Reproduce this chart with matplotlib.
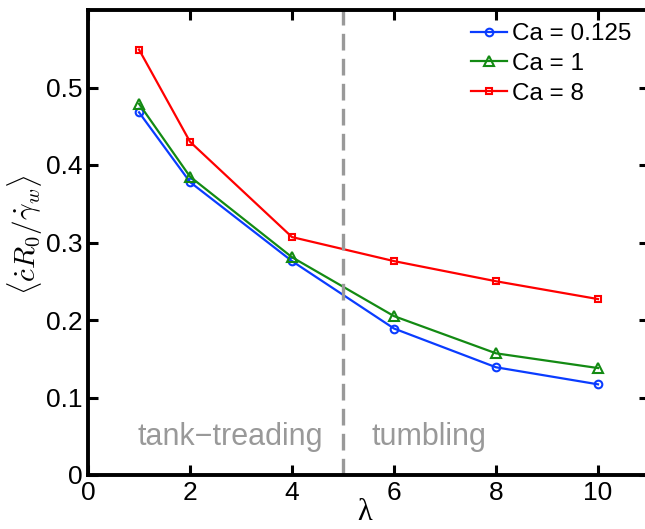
import matplotlib
matplotlib.use("Agg")
import matplotlib.pyplot as plt

lam = [1, 2, 4, 6, 8, 10]
ca_0125 = [0.468, 0.378, 0.276, 0.189, 0.139, 0.117]
ca_1 = [0.479, 0.385, 0.281, 0.205, 0.157, 0.138]
ca_8 = [0.549, 0.430, 0.307, 0.276, 0.250, 0.227]
labels = ["Ca = 0.125", "Ca = 1", "Ca = 8"]
xticks = [0, 2, 4, 6, 8, 10]
yticks = [0, 0.1, 0.2, 0.3, 0.4, 0.5]
ytick_labels = ["0", "0.1", "0.2", "0.3", "0.4", "0.5"]

plt.rcParams['font.family'] = ['Liberation Sans', 'DejaVu Sans']
plt.rcParams['mathtext.fontset'] = 'cm'

fig = plt.figure(figsize=(6.45, 5.29), dpi=100)
ax = fig.add_axes([88/645, 1 - 475/529, (649-88)/645, (475-10)/529])

ax.plot(lam, ca_0125, '-o', color='#0a3cff', lw=1.6, ms=5.5, mfc='none', mew=1.5, label=labels[0])
ax.plot(lam, ca_1, '-^', color='#138a13', lw=1.6, ms=7, mfc='none', mew=1.5, label=labels[1])
ax.plot(lam, ca_8, '-s', color='#ff0000', lw=1.6, ms=5, mfc='none', mew=1.5, label=labels[2])

ax.axvline(5, color='#999999', lw=2.4, ls=(0, (5, 2.5)))
ax.text(2.78, 0.049, 'tank\u2212treading', color='#999999', fontsize=22, ha='center', va='center')
ax.text(6.68, 0.049, 'tumbling', color='#999999', fontsize=22, ha='center', va='center')

ax.set_xlim(0, 11)
ax.set_ylim(0, 0.6)
ax.set_xticks(xticks)
ax.set_yticks(yticks)
ax.set_yticklabels(ytick_labels)
ax.tick_params(direction='in', length=7, width=2.2, labelsize=19, top=True, right=True, pad=4)
for s in ax.spines.values():
    s.set_linewidth(2.8)

fig.text(365/645, 1 - 512/529, '\u03bb', fontsize=22, family='Liberation Serif', ha='center', va='center')
ax.set_ylabel(r'$\langle \dot{c} R_0 / \dot{\gamma}_w \rangle$', fontsize=21)
ax.yaxis.set_label_coords(-0.077, 0.516)

leg = ax.legend(loc='upper left', bbox_to_anchor=(471/645, 1 - 23/529), bbox_transform=fig.transFigure,
                frameon=False, fontsize=17.5, handlelength=1.5, handletextpad=0.2,
                labelspacing=0.32, borderaxespad=0, borderpad=0)

fig.savefig('out.png', dpi=100)
